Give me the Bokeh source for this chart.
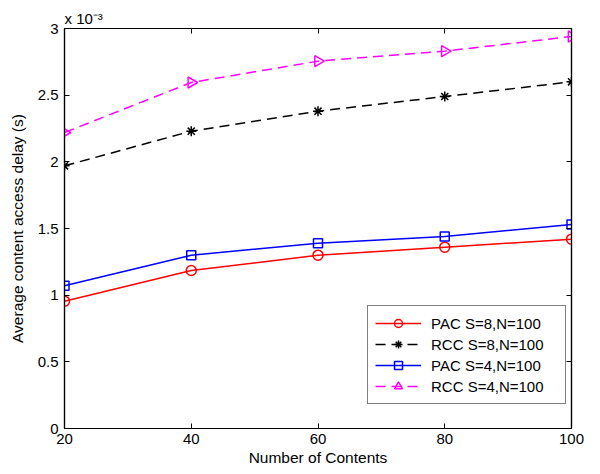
import numpy as np
from bokeh.plotting import figure
from bokeh.models import (LinearAxis, Range1d, Legend, LegendItem, FixedTicker)
from bokeh.embed import file_html
from bokeh.resources import INLINE

# ---- data (delay values shown in units of 1e-3 s) ----
contents = [20, 40, 60, 80, 100]
pac_s8 = [0.955, 1.185, 1.30, 1.36, 1.42]
rcc_s8 = [1.97, 2.23, 2.38, 2.49, 2.60]
pac_s4 = [1.07, 1.30, 1.39, 1.44, 1.53]
rcc_s4 = [2.22, 2.595, 2.755, 2.83, 2.94]

x_ticks = [20, 40, 60, 80, 100]
y_ticks = [0, 0.5, 1, 1.5, 2, 2.5, 3]
y_tick_labels = ["0", "0.5", "1", "1.5", "2", "2.5", "3"]

labels = ["PAC S=8,N=100", "RCC S=8,N=100", "PAC S=4,N=100", "RCC S=4,N=100"]
exponent_text = "x 10\u207b\u00b3"

FONT = "Liberation Sans"

p = figure(width=600, height=474, output_backend="svg", toolbar_location=None,
           x_range=Range1d(20, 100), y_range=Range1d(0, 3),
           min_border_left=64, min_border_right=29, min_border_top=28,
           min_border_bottom=46, background_fill_color="white",
           border_fill_color="white")
p.grid.visible = False
p.outline_line_color = "black"
p.outline_line_width = 1.2

def style_axis(ax, show_labels=True):
    ax.axis_line_color = "black"
    ax.axis_line_width = 1.2
    ax.major_tick_in = 5
    ax.major_tick_out = 0
    ax.minor_tick_in = 0
    ax.minor_tick_out = 0
    ax.major_tick_line_color = "black"
    ax.major_tick_line_width = 1
    ax.major_label_text_font = FONT
    if show_labels:
        ax.major_label_text_font_size = "15px"
        ax.major_label_text_color = "black"
    else:
        ax.major_label_text_font_size = "1px"
        ax.major_label_text_color = None
        ax.major_label_standoff = 0

xa = p.xaxis[0]
ya = p.yaxis[0]
xa.ticker = FixedTicker(ticks=x_ticks)
ya.ticker = FixedTicker(ticks=y_ticks)
ya.major_label_overrides = {t: l for t, l in zip(y_ticks, y_tick_labels)}
style_axis(xa)
style_axis(ya)
xa.major_label_standoff = 5
ya.major_label_standoff = 6
xa.axis_label = "Number of Contents"
ya.axis_label = "Average content access delay (s)"
for ax in (xa, ya):
    ax.axis_label_text_font = FONT
    ax.axis_label_text_font_size = "15.5px"
    ax.axis_label_text_font_style = "normal"
    ax.axis_label_text_color = "black"
xa.axis_label_standoff = 2
ya.axis_label_standoff = 9

ra = LinearAxis(ticker=FixedTicker(ticks=y_ticks))
ta = LinearAxis(ticker=FixedTicker(ticks=x_ticks))
style_axis(ra, False)
style_axis(ta, False)
p.add_layout(ra, "right")
p.add_layout(ta, "above")

# exponent marker shown above the y axis (as in MATLAB)
p.title.text = exponent_text
p.title.align = "left"
p.title.offset = 0
p.title.standoff = 3
p.title.text_font = FONT
p.title.text_font_size = "15px"
p.title.text_font_style = "normal"
p.title.text_color = "black"

# ---- series ----
r1l = p.line(contents, pac_s8, line_color="red", line_width=1.5)
r1m = p.scatter(contents, pac_s8, marker="circle", size=10, line_color="red",
                fill_color=None, line_width=1.5)
r2l = p.line(contents, rcc_s8, line_color="black", line_width=1.5, line_dash="10 6")
r2m = p.scatter(contents, rcc_s8, marker="asterisk", size=10, line_color="black",
                line_width=1.5)
r3l = p.line(contents, pac_s4, line_color="blue", line_width=1.5)
r3m = p.scatter(contents, pac_s4, marker="square", size=9, line_color="blue",
                fill_color=None, line_width=1.5)
r4l = p.line(contents, rcc_s4, line_color="magenta", line_width=1.5, line_dash="10 6")
r4m = p.scatter(contents, rcc_s4, marker="triangle", size=11, angle=-np.pi / 2,
                line_color="magenta", fill_color=None, line_width=1.5)

items = [LegendItem(label=labels[0], renderers=[r1l, r1m]),
         LegendItem(label=labels[1], renderers=[r2l, r2m]),
         LegendItem(label=labels[2], renderers=[r3l, r3m]),
         LegendItem(label=labels[3], renderers=[r4l, r4m])]
legend = Legend(items=items, location=(303, 24), padding=7, spacing=1,
                label_height=20, glyph_height=20, glyph_width=46,
                label_standoff=10, label_width=127,
                label_text_font=FONT, label_text_font_size="15px",
                label_text_color="black",
                border_line_color="black", border_line_width=1.2,
                background_fill_alpha=1, margin=0)
p.add_layout(legend, "center")

open("out.html", "w").write(file_html(p, INLINE))
